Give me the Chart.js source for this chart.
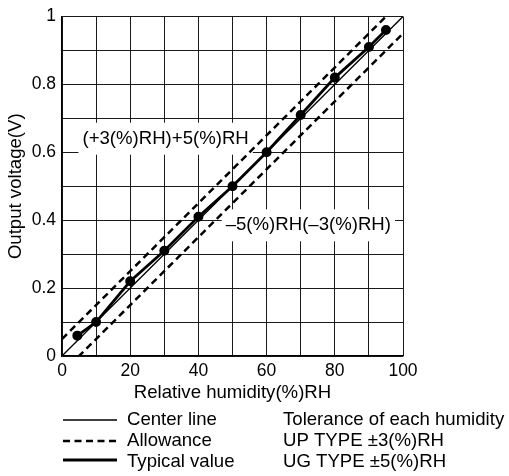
<!DOCTYPE html>
<html>
<head>
<meta charset="utf-8">
<script src="https://cdn.jsdelivr.net/npm/chart.js@4.4.1/dist/chart.umd.min.js"></script>
<style>
  html, body { margin: 0; padding: 0; background: #fff; }
  #wrap { width: 509px; height: 476px; }
</style>
</head>
<body>
<div id="wrap"><canvas id="rhChart" width="509" height="476"></canvas></div>
<script>
// values
const centerX = [0, 100];
const centerY = [0, 1];
const upperAllowY = [0.05, 1.05];
const lowerAllowY = [-0.05, 0.95];
const typicalX = [4.5, 10, 20, 30, 40, 50, 60, 70, 80, 90, 95];
const typicalY = [0.06, 0.10, 0.22, 0.31, 0.41, 0.50, 0.60, 0.71, 0.82, 0.91, 0.96];
const xTickLabels = [0, 20, 40, 60, 80, 100];
const yTickLabels = [0, 0.2, 0.4, 0.6, 0.8, 1];

const FONT = 'Liberation Sans, Arial, Helvetica, sans-serif';
const TXT = 18.6;

const toPts = (xs, ys) => xs.map((x, i) => ({ x: x, y: ys[i] }));

const notes = [
    { text: '(+3(%)RH)+5(%)RH', x: 6, y: 0.64 },
    { text: '\u20135(%)RH(\u20133(%)RH)', x: 48, y: 0.385 }
];

const legendRows = [
    { text: 'Center line', width: 1.3, dash: [], side: 'Tolerance of each humidity' },
    { text: 'Allowance', width: 2.5, dash: [7, 4.5], side: 'UP TYPE \u00b13(%)RH' },
    { text: 'Typical value', width: 2.8, dash: [], side: 'UG TYPE \u00b15(%)RH' }
];

const notesPlugin = {
    id: 'notes',
    beforeDatasetsDraw(chart) {
        const ctx = chart.ctx;
        const xs = chart.scales.x, ys = chart.scales.y;
        ctx.save();
        ctx.font = TXT + 'px ' + FONT;
        ctx.textBaseline = 'middle';
        notes.forEach(n => {
            const px = xs.getPixelForValue(n.x);
            const py = ys.getPixelForValue(n.y);
            const w = ctx.measureText(n.text).width;
            ctx.fillStyle = '#fff';
            ctx.fillRect(px - 4, py - 16, w + 8, 32);
            ctx.fillStyle = '#000';
            ctx.fillText(n.text, px, py);
        });
        ctx.restore();
    }
};

const legendPlugin = {
    id: 'sideLegend',
    afterDraw(chart) {
        const ctx = chart.ctx;
        ctx.save();
        ctx.font = TXT + 'px ' + FONT;
        ctx.textBaseline = 'middle';
        ctx.fillStyle = '#000';
        ctx.strokeStyle = '#000';
        legendRows.forEach((r, i) => {
            const y = 420 + i * 21;
            ctx.lineWidth = r.width;
            ctx.setLineDash(r.dash);
            ctx.beginPath();
            ctx.moveTo(63, i === 2 ? y - 2 : y);
            ctx.lineTo(117, i === 2 ? y - 2 : y);
            ctx.stroke();
            ctx.fillText(r.text, 127, y);
            ctx.fillText(r.side, 283, y);
        });
        ctx.restore();
    }
};

const ctx = document.getElementById('rhChart').getContext('2d');

window.rhChart = new Chart(ctx, {
    type: 'scatter',
    data: {
        datasets: [
            {
                label: 'Center line',
                data: toPts(centerX, centerY),
                showLine: true,
                borderColor: '#000',
                borderWidth: 1.3,
                pointRadius: 0
            },
            {
                label: 'Allowance +',
                data: toPts(centerX, upperAllowY),
                showLine: true,
                borderColor: '#000',
                borderWidth: 2.5,
                borderDash: [7, 4.5],
                pointRadius: 0
            },
            {
                label: 'Allowance -',
                data: toPts(centerX, lowerAllowY),
                showLine: true,
                borderColor: '#000',
                borderWidth: 2.5,
                borderDash: [7, 4.5],
                pointRadius: 0
            },
            {
                label: 'Typical value',
                data: toPts(typicalX, typicalY),
                showLine: true,
                borderColor: '#000',
                backgroundColor: '#000',
                borderWidth: 2.8,
                pointRadius: 3.6,
                pointBackgroundColor: '#000'
            }
        ]
    },
    options: {
        responsive: false,
        animation: false,
        layout: { padding: { left: 0, top: 16, right: 106, bottom: 70 } },
        plugins: {
            legend: { display: false },
            tooltip: { enabled: false }
        },
        scales: {
            x: {
                type: 'linear',
                min: 0,
                max: 100,
                afterFit: s => { s.height = 50; },
                border: { color: '#000', width: 1.3 },
                grid: { color: '#1a1a1a', lineWidth: 1, drawTicks: false },
                ticks: {
                    stepSize: 10,
                    padding: 5,
                    color: '#000',
                    font: { family: FONT, size: 17.5 },
                    maxRotation: 0,
                    autoSkip: false,
                    callback: v => xTickLabels.includes(Math.round(v)) ? String(Math.round(v)) : ''
                },
                title: {
                    display: true,
                    text: 'Relative humidity(%)RH',
                    color: '#000',
                    font: { family: FONT, size: TXT },
                    padding: { top: 0, bottom: 2 }
                }
            },
            y: {
                type: 'linear',
                min: 0,
                max: 1,
                afterFit: s => { s.width = 62; },
                border: { color: '#000', width: 1.3 },
                grid: { color: '#1a1a1a', lineWidth: 1, drawTicks: false },
                ticks: {
                    stepSize: 0.1,
                    padding: 6,
                    color: '#000',
                    font: { family: FONT, size: 17.5 },
                    autoSkip: false,
                    callback: v => {
                        const r = Math.round(v * 10) / 10;
                        return yTickLabels.some(t => Math.abs(t - r) < 1e-9) ? String(r) : '';
                    }
                },
                title: {
                    display: true,
                    text: 'Output voltage(V)',
                    color: '#000',
                    font: { family: FONT, size: TXT },
                    padding: { top: 5, bottom: 0 }
                }
            }
        }
    },
    plugins: [notesPlugin, legendPlugin]
});
</script>
</body>
</html>
